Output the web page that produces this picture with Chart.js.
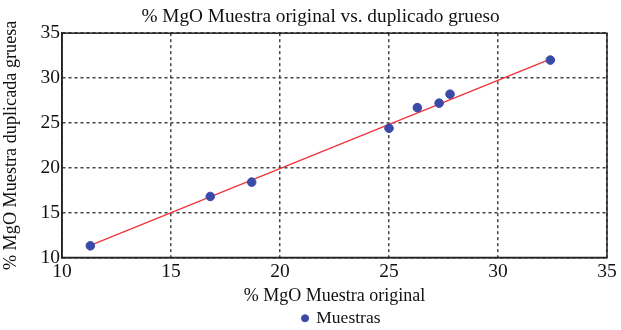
<!DOCTYPE html>
<html><head><meta charset="utf-8">
<script src="https://cdn.jsdelivr.net/npm/chart.js@4.4.0/dist/chart.umd.min.js"></script>
<style>html,body{margin:0;padding:0;background:#fff}#wrap{width:621px;height:330px}</style>
</head><body><div id="wrap"><canvas id="c"></canvas></div>
<script>
const titleText = "% MgO Muestra original vs. duplicado grueso";
const xTitle = "% MgO Muestra original";
const yTitle = "% MgO Muestra duplicada gruesa";
const seriesName = "Muestras";
const xOriginal = [11.3, 16.8, 18.7, 25.0, 26.3, 27.3, 27.8, 32.4];
const yDuplicate = [11.3, 16.8, 18.4, 24.4, 26.7, 27.2, 28.2, 32.0];
const fitX = [11.3, 32.4];
const fitY = [11.35, 32.1];
const axisMin = 10, axisMax = 35, axisStep = 5;

const ctx = document.getElementById('c');
new Chart(ctx, {
  type: 'scatter',
  data: {
    datasets: [
      { label: seriesName, data: xOriginal.map((x,i)=>({x:x,y:yDuplicate[i]})),
        backgroundColor: '#3a4aa8', borderColor: '#3a4aa8', pointRadius: 4.3, pointHoverRadius: 4.3, order: 1 },
      { label: 'fit', type: 'line', data: fitX.map((x,i)=>({x:x,y:fitY[i]})),
        borderColor: '#f0333a', borderWidth: 1.3, pointRadius: 0, fill: false, order: 2 }
    ]
  },
  options: {
    responsive: true, maintainAspectRatio: false, animation: false,
    layout: { padding: { left: 0, right: 14, top: 2, bottom: -7 } },
    plugins: {
      title: { display: true, text: titleText, color: '#111',
        font: { family: 'Liberation Serif', size: 19.3, weight: 'normal' }, padding: { top: 3, bottom: 5 } },
      legend: { position: 'bottom', labels: { filter: it => it.text === seriesName, usePointStyle: true, pointStyle: 'circle',
        boxWidth: 5, boxHeight: 5, color: '#111', font: { family: 'Liberation Serif', size: 17.5 }, padding: 2 } },
      tooltip: { enabled: false }
    },
    scales: {
      x: { type: 'linear', min: axisMin, max: axisMax,
        afterFit(s) { s.height = 50; },
        ticks: { stepSize: axisStep, color: '#111', font: { family: 'Liberation Serif', size: 19.5 }, padding: 3 },
        grid: { color: '#444', lineWidth: 1.5, drawTicks: false },
        border: { display: true, color: '#222', width: 1.5, dash: [3,3] },
        title: { display: true, text: xTitle, color: '#111', font: { family: 'Liberation Serif', size: 18 }, padding: { top: 0, bottom: 0 } } },
      y: { type: 'linear', min: axisMin, max: axisMax,
        afterFit(s) { s.width = 62; },
        ticks: { stepSize: axisStep, color: '#111', font: { family: 'Liberation Serif', size: 19.5 }, padding: 2 },
        grid: { color: '#444', lineWidth: 1.5, drawTicks: false },
        border: { display: true, color: '#222', width: 1.5, dash: [3,3] },
        title: { display: true, text: yTitle, color: '#111', font: { family: 'Liberation Serif', size: 18.2 }, padding: { top: 0, bottom: 2 } } }
    }
  },
  plugins: [{
    id: 'shiftBlocks',
    afterLayout(chart) {
      if (chart.titleBlock) { chart.titleBlock.left += 17; chart.titleBlock.right += 17; }
      if (chart.legend) { chart.legend.left += 38; chart.legend.right += 38; }
    }
  }, {
    id: 'frame',
    afterDatasetsDraw(chart) {
      const a = chart.chartArea, c = chart.ctx;
      c.save(); c.strokeStyle = '#222'; c.lineWidth = 1.5; c.setLineDash([]);
      c.strokeRect(a.left, a.top, a.right - a.left, a.bottom - a.top); c.restore();
    }
  }]
});
</script></body></html>
